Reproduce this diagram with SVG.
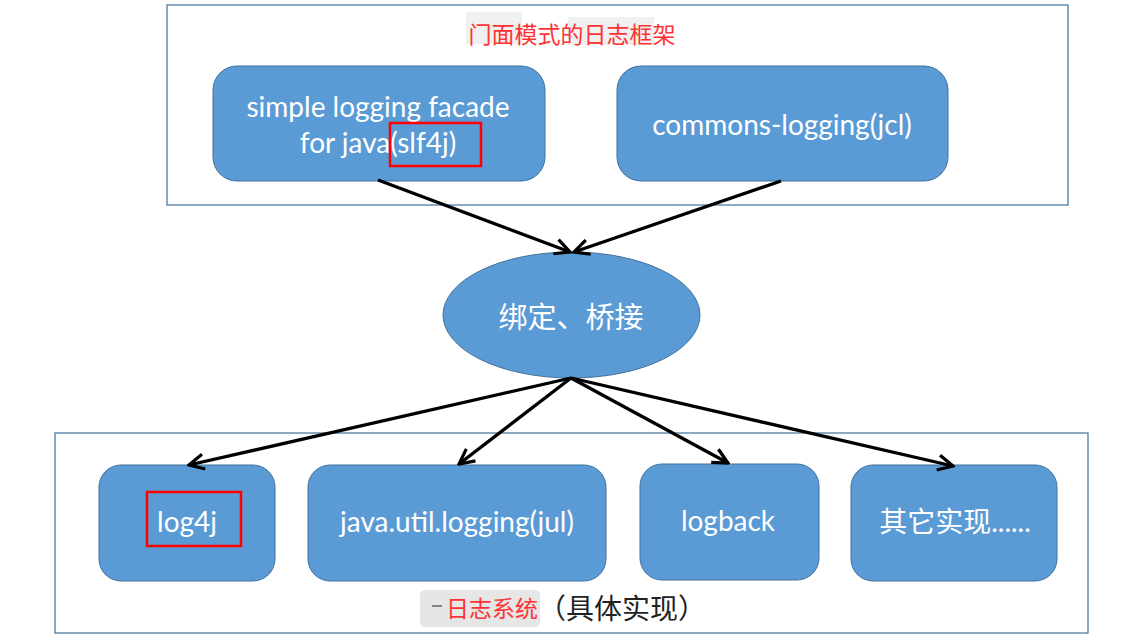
<svg xmlns="http://www.w3.org/2000/svg" width="1127" height="644" viewBox="0 0 1127 644">
<style>
.container{fill:#ffffff;stroke:#41719C;stroke-width:1.2}
.node{fill:#5B9BD5;stroke:#41719C;stroke-width:1}
.lbl{fill:#ffffff;font-family:Lato,"Noto Sans CJK SC",sans-serif;font-size:28px;text-anchor:middle;dominant-baseline:central}
.cjk{fill:#ffffff;font-family:"Noto Sans CJK SC",sans-serif;font-size:29px;text-anchor:middle;dominant-baseline:central}
.hl{fill:none;stroke:#FF0000;stroke-width:2.5}
.edge{stroke:#000000;stroke-width:3.3;fill:none;marker-end:url(#arr)}
.title{font-family:"Noto Sans CJK SC",sans-serif;font-size:23px;dominant-baseline:central}
.patch{fill:#E6E6E6}
</style>
<defs>
<marker id="arr" viewBox="0 0 18 18" refX="16" refY="9" markerWidth="18" markerHeight="18" markerUnits="userSpaceOnUse" orient="auto">
<path d="M1,1.5 L16,9 L1,16.5" fill="none" stroke="#000000" stroke-width="3.2" stroke-linejoin="miter"/>
</marker>
</defs>
<rect width="1127" height="644" fill="#ffffff"/>
<g id="facade-container">
<rect class="container" x="167" y="5" width="901" height="200"/>
<rect class="patch" x="466" y="12" width="56" height="32" opacity="0.6"/>
<rect class="patch" x="568" y="17" width="86" height="28" opacity="0.6"/>
<text class="title" x="572" y="33" text-anchor="middle" fill="#FF3333">门面模式的日志框架</text>
</g>
<g id="impl-container">
<rect class="container" x="55" y="433" width="1033" height="200"/>
<rect class="patch" x="420" y="590" width="120" height="37" rx="5"/>
<line x1="432" y1="606" x2="442" y2="606" stroke="#444444" stroke-width="1.2"/>
<text class="title" x="446" y="607" fill="#FF3333">日志系统<tspan fill="#222222" font-size="28px">（具体实现）</tspan></text>
</g>
<g id="slf4j">
<rect class="node" x="213" y="66" width="332" height="115" rx="24"/>
<text class="lbl" x="378" y="106">simple logging facade</text>
<text class="lbl" x="378" y="142">for java(slf4j)</text>
<rect class="hl" x="390" y="123" width="91" height="43"/>
</g>
<g id="jcl">
<rect class="node" x="617" y="66" width="331" height="115" rx="24"/>
<text class="lbl" x="782" y="124">commons-logging(jcl)</text>
</g>
<g id="bridge">
<ellipse class="node" cx="571.5" cy="315" rx="128.5" ry="63"/>
<text class="cjk" x="571" y="315">绑定、桥接</text>
</g>
<g id="log4j">
<rect class="node" x="99" y="465" width="176" height="116" rx="22"/>
<text class="lbl" x="187" y="521">log4j</text>
<rect class="hl" x="147" y="492" width="94" height="54"/>
</g>
<g id="jul">
<rect class="node" x="308" y="465" width="298" height="116" rx="22"/>
<text class="lbl" x="457" y="521">java.util.logging(jul)</text>
</g>
<g id="logback">
<rect class="node" x="640" y="464" width="179" height="116" rx="22"/>
<text class="lbl" x="728" y="520">logback</text>
</g>
<g id="others">
<rect class="node" x="851" y="465" width="206" height="116" rx="22"/>
<text class="lbl" x="955" y="521">其它实现......</text>
</g>
<g id="connectors">
<line class="edge" x1="378" y1="180" x2="570" y2="252"/>
<line class="edge" x1="781" y1="181" x2="574" y2="252"/>
<line class="edge" x1="571" y1="378" x2="189" y2="465"/>
<line class="edge" x1="571" y1="378" x2="459" y2="464"/>
<line class="edge" x1="571" y1="378" x2="728" y2="463"/>
<line class="edge" x1="571" y1="378" x2="953" y2="466"/>
</g>
</svg>
